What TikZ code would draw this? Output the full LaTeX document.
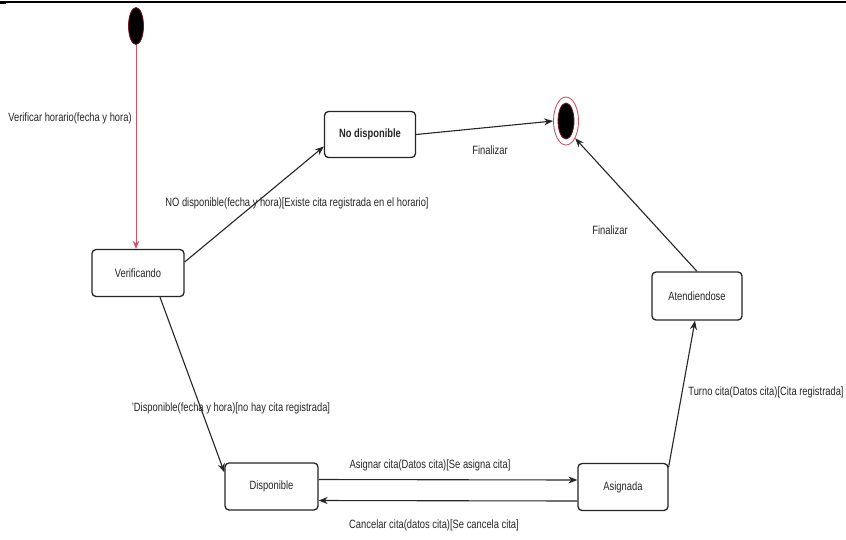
\documentclass[tikz,border=0pt]{standalone}
\usepackage{fontspec}
\setmainfont{Liberation Sans}[FakeStretch=0.78]
\usetikzlibrary{arrows.meta,shapes.geometric}
\definecolor{pinkred}{RGB}{205,85,100}
\definecolor{rimred}{RGB}{120,20,30}
\begin{document}
\begin{tikzpicture}[x=1pt,y=-1pt,
  state/.style={draw=black!85, line width=1.3pt, rounded corners=4pt, fill=white,
    minimum width=92pt, minimum height=47pt, inner sep=0pt,
    font=\fontsize{12}{14}\selectfont, text=black!85},
  trans/.style={draw=black!85, line width=1.1pt, -{Stealth[length=9pt,width=7pt]}},
  lbl/.style={font=\fontsize{12}{14}\selectfont, text=black!85, inner sep=0pt},
  pseudo/.style={ellipse, fill=black, draw=rimred, line width=0.8pt, inner sep=0pt}
]
\useasboundingbox (0,0) rectangle (846,539);
\fill[white] (0,0) rectangle (846,539);

% frame rule along the top
\draw[line width=1.5pt] (0,2) -- (846,2);
\fill (0,0.5) rectangle (6,3.5);

% pseudo states
\node[pseudo, minimum width=15pt, minimum height=37pt] (init) at (136,26) {};
\node[ellipse, draw=pinkred, line width=0.9pt, minimum width=25pt, minimum height=48pt, inner sep=0pt] (fin) at (566,121) {};
\node[pseudo, minimum width=16pt, minimum height=36pt] (finin) at (566,121) {};

% states
\node[state] (ver) at (138,273) {Verificando};
\node[state, minimum width=91pt, minimum height=46pt, font=\bfseries\fontsize{12}{14}\selectfont] (nodisp) at (370,134.5) {No disponible};
\node[state, minimum width=90pt, minimum height=48pt] (aten) at (697,296) {Atendiendose};
\node[state, minimum width=93pt] (disp) at (271.5,486.5) {Disponible};
\node[state, minimum width=90pt] (asig) at (623,487) {Asignada};

% transitions
\draw[draw=pinkred, line width=0.9pt, -{Stealth[length=8pt,width=6.5pt,fill=pinkred]}] (init) -- (init |- ver.north);
\draw[trans] ([yshift=11pt]ver.east) -- ([yshift=-12pt]nodisp.west);
\draw[trans] (nodisp.east) -- (fin.west);
\draw[trans] (aten.north) -- (fin.south east);
\draw[trans] ([xshift=22pt]ver.south) -- ([yshift=-10pt]disp.north west);
\draw[trans] ([yshift=7pt]disp.east) -- ([yshift=7pt]asig.west);
\draw[trans] ([yshift=-14pt]asig.west) -- ([yshift=-14pt]disp.east);
\draw[trans] ([yshift=-4pt]asig.north east) -- ([xshift=-2pt]aten.south);

% transition labels
\node[lbl] (l1) at (70,118) {Verificar horario(fecha y hora)};
\node[lbl] (l2) at (297,203) {NO disponible(fecha y hora)[Existe cita registrada en el horario]};
\node[lbl] (l3) at (490,150) {Finalizar};
\node[lbl] (l4) at (610,230) {Finalizar};
\node[lbl] (l5) at (231,408) {'Disponible(fecha y hora)[no hay cita registrada]};
\node[lbl] (l6) at (430,465) {Asignar cita(Datos cita)[Se asigna cita]};
\node[lbl] (l7) at (434,525) {Cancelar cita(datos cita)[Se cancela cita]};
\node[lbl] (l8) at (766,392) {Turno cita(Datos cita)[Cita registrada]};
\end{tikzpicture}
\end{document}
